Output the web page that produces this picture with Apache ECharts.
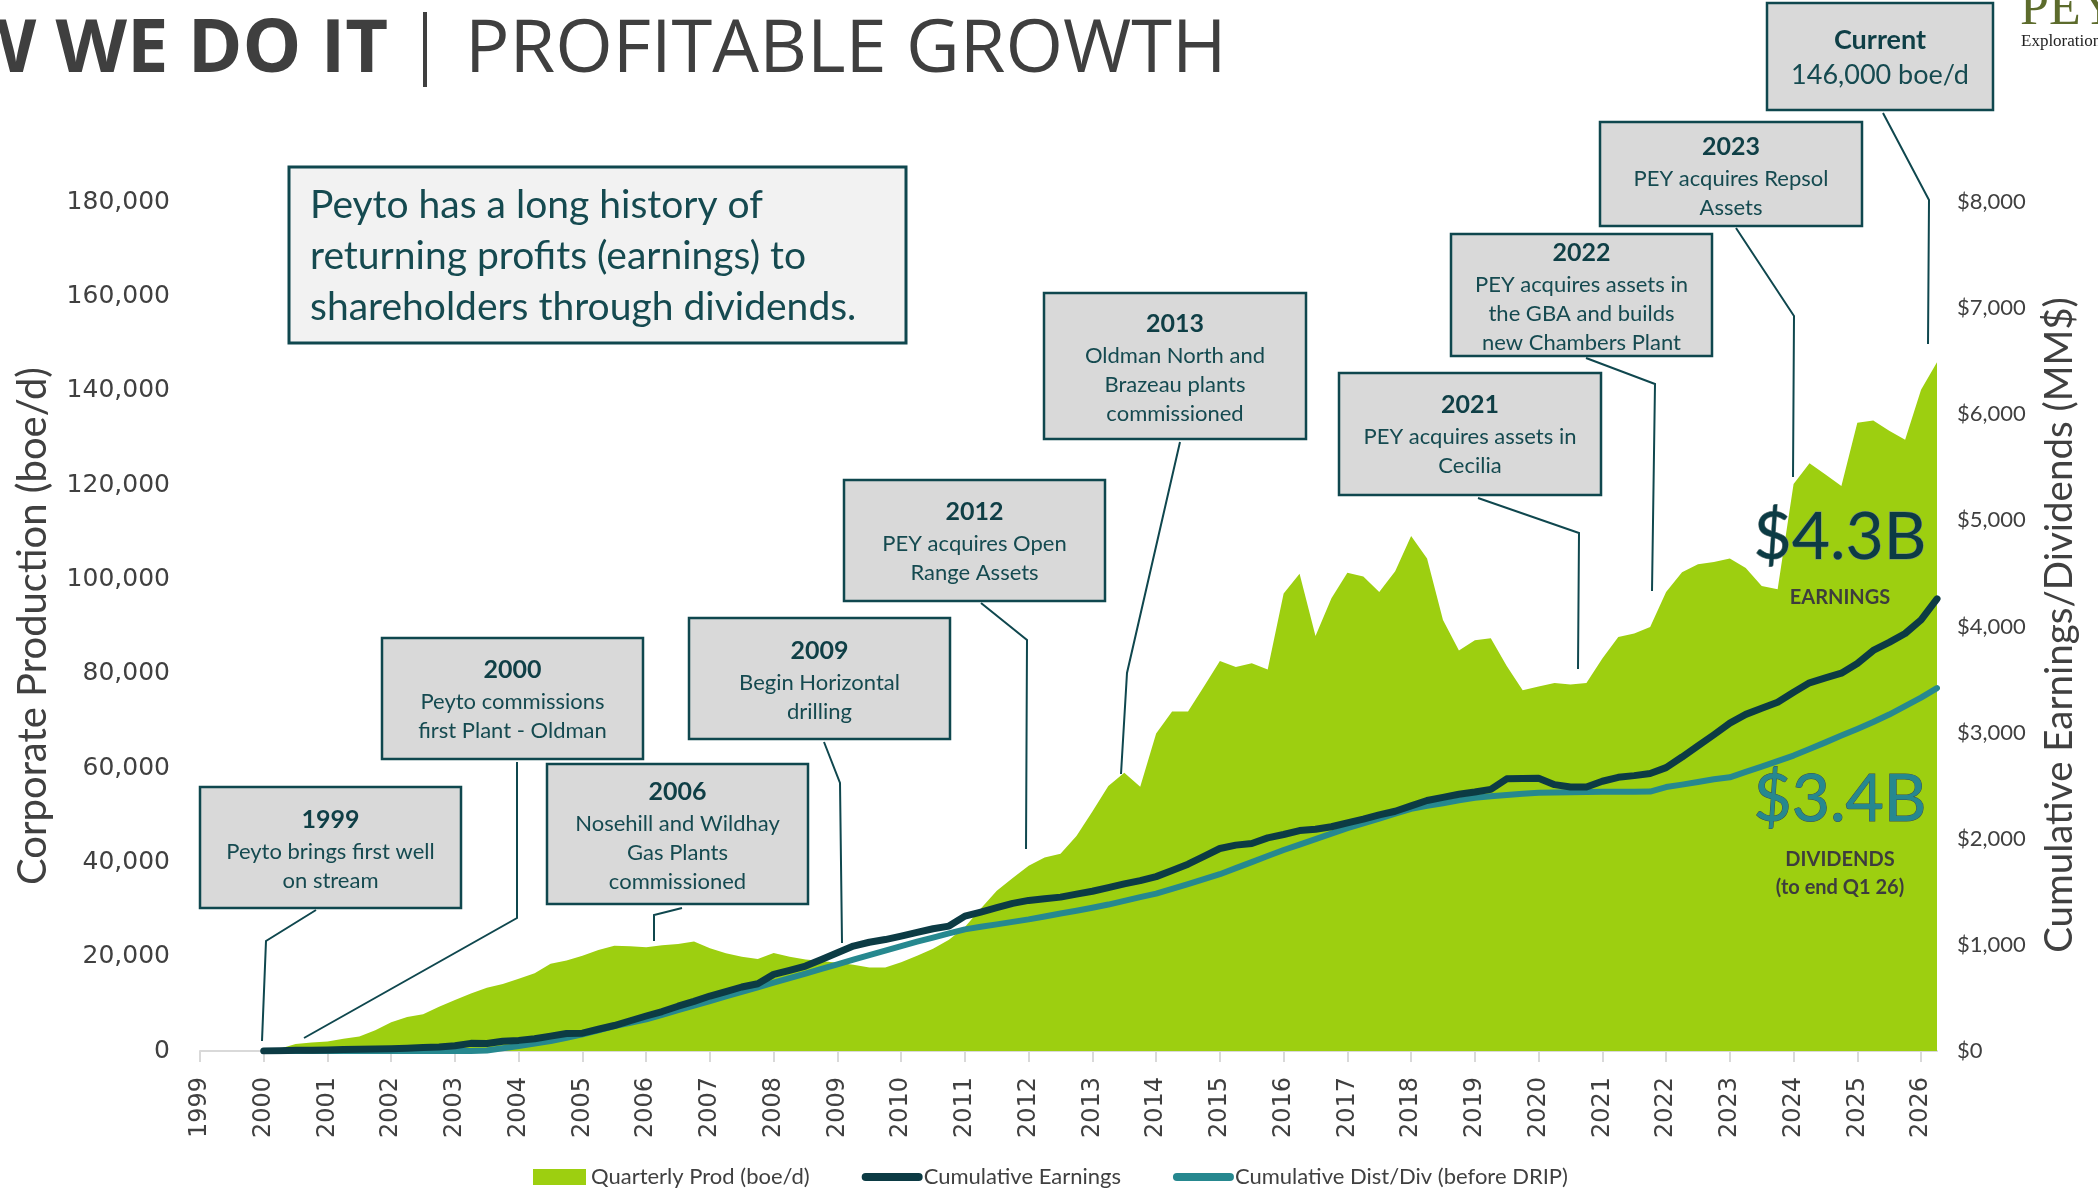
<!DOCTYPE html>
<html>
<head>
<meta charset="utf-8">
<title>Profitable Growth</title>
<script src="https://cdn.jsdelivr.net/npm/echarts@6.0.0/dist/echarts.min.js"></script>
<style>
  html, body { margin: 0; padding: 0; background: #fff; }
  #chart { width: 2098px; height: 1189px; }
</style>
</head>
<body>
<div id="chart"></div>
<script>
// quarterly readings, first one sits on the 2000 tick
const firstQuarter = 2000;
const years = [1999, 2000, 2001, 2002, 2003, 2004, 2005, 2006, 2007, 2008, 2009, 2010, 2011, 2012,
  2013, 2014, 2015, 2016, 2017, 2018, 2019, 2020, 2021, 2022, 2023, 2024, 2025, 2026];

// Quarterly Prod (boe/d)
const production = [
  0, 500, 1500, 1800,
  2000, 2600, 3100, 4400,
  6100, 7200, 7800, 9400,
  10800, 12200, 13400, 14200,
  15300, 16500, 18500, 19200,
  20200, 21400, 22300, 22200,
  22000, 22400, 22700, 23200,
  21800, 20700, 20000, 19500,
  20800, 20000, 19400, 19100,
  18700, 18300, 17700, 17700,
  18800, 20200, 21700, 23600,
  26300, 30200, 34000, 36700,
  39300, 41000, 41800, 45600,
  50800, 56200, 59000, 56000,
  67300, 72000, 72000, 77300,
  82700, 81400, 82200, 80900,
  97000, 101200, 88000, 96000,
  101400, 100600, 97300, 101700,
  109200, 104400, 91400, 84900,
  87100, 87500, 81600, 76500,
  77300, 78000, 77700, 78000,
  83200, 87800, 88500, 89900,
  97300, 101500, 103200, 103700,
  104400, 102400, 98600, 97900,
  120200, 124600, 122200, 119800,
  133200, 133700, 131500, 129600,
  140200, 146000
];

// Cumulative Earnings ($MM)
const earnings = [
  0, 3, 6, 8,
  10, 13, 16, 19,
  22, 27, 32, 38,
  50, 72, 70, 92,
  100, 115, 140, 165,
  168, 205, 240, 285,
  330, 372, 422, 468,
  518, 560, 603, 634,
  722, 760, 800, 862,
  926, 989, 1025, 1050,
  1083, 1118, 1152, 1177,
  1271, 1309, 1350, 1391,
  1419, 1435, 1450, 1478,
  1505, 1540, 1575, 1605,
  1643, 1700, 1760, 1835,
  1908, 1940, 1955, 2008,
  2040, 2077, 2090, 2113,
  2150, 2185, 2225, 2259,
  2310, 2360, 2390, 2419,
  2440, 2465, 2565, 2568,
  2570, 2510, 2487, 2487,
  2542, 2579, 2595, 2615,
  2670, 2770, 2875, 2980,
  3090, 3172, 3230, 3286,
  3380, 3469, 3515, 3560,
  3651, 3774, 3850, 3934,
  4062, 4260
];

// Cumulative Dist/Div before DRIP ($MM)
const dividends = [
  0, 0, 0, 0,
  0, 0, 0, 0,
  0, 0, 0, 0,
  0, 0, 5, 25,
  47, 70, 94, 125,
  157, 195, 235, 265,
  298, 340, 385, 428,
  471, 514, 557, 600,
  644, 687, 730, 773,
  816, 860, 903, 946,
  989, 1030, 1068, 1108,
  1146, 1170, 1193, 1217,
  1240, 1268, 1295, 1322,
  1350, 1380, 1415, 1450,
  1483, 1527, 1572, 1620,
  1666, 1723, 1780, 1837,
  1894, 1945, 1996, 2048,
  2099, 2145, 2190, 2236,
  2282, 2310, 2335, 2362,
  2387, 2400, 2412, 2423,
  2433, 2436, 2438, 2440,
  2442, 2442, 2442, 2445,
  2487, 2510, 2535, 2560,
  2579, 2630, 2680, 2732,
  2784, 2846, 2908, 2972,
  3035, 3100, 3170, 3250,
  3330, 3420
];

const seriesNames = ['Quarterly Prod (boe/d)', 'Cumulative Earnings', 'Cumulative Dist/Div (before DRIP)'];

const GREEN = '#9dcf10';
const DARK = '#0c3b44';
const TEAL = '#26888f';
const BOX_EDGE = '#0f474e';
const BOX_TEXT = '#154a50';

function toPoints(arr) {
  return arr.map((v, i) => [firstQuarter + i / 4, v]);
}

// callout boxes: [x, y, w, h] in page px, title centre y, body lines
const callouts = [
  { box: [200, 787, 261, 121], ty: 820, title: '1999', lines: ['Peyto brings first well', 'on stream'],
    leader: [[316, 910], [266, 941], [262, 1041]] },
  { box: [382, 638, 261, 121], ty: 670, title: '2000', lines: ['Peyto commissions', 'first Plant - Oldman'],
    leader: [[517, 762], [517, 918], [304, 1038]] },
  { box: [547, 764, 261, 140], ty: 792, title: '2006', lines: ['Nosehill and Wildhay', 'Gas Plants', 'commissioned'],
    leader: [[682, 908], [654, 915], [654, 941]] },
  { box: [689, 618, 261, 121], ty: 651, title: '2009', lines: ['Begin Horizontal', 'drilling'],
    leader: [[824, 742], [840, 783], [842, 943]] },
  { box: [844, 480, 261, 121], ty: 512, title: '2012', lines: ['PEY acquires Open', 'Range Assets'],
    leader: [[981, 603], [1027, 640], [1026, 849]] },
  { box: [1044, 293, 262, 146], ty: 324, title: '2013', lines: ['Oldman North and', 'Brazeau plants', 'commissioned'],
    leader: [[1180, 442], [1127, 673], [1121, 774]] },
  { box: [1339, 373, 262, 122], ty: 405, title: '2021', lines: ['PEY acquires assets in', 'Cecilia'],
    leader: [[1478, 498], [1579, 533], [1578, 669]] },
  { box: [1451, 234, 261, 122], ty: 253, title: '2022', lines: ['PEY acquires assets in', 'the GBA and builds', 'new Chambers Plant'],
    leader: [[1586, 358], [1655, 384], [1652, 591]] },
  { box: [1600, 122, 262, 104], ty: 147, title: '2023', lines: ['PEY acquires Repsol', 'Assets'],
    leader: [[1736, 228], [1794, 316], [1793, 477]] }
];

const graphics = [];

callouts.forEach(c => {
  const [x, y, w, h] = c.box;
  graphics.push({
    type: 'rect', z: 100,
    shape: { x: x, y: y, width: w, height: h },
    style: { fill: '#d9d9d9', stroke: BOX_EDGE, lineWidth: 2.5 }
  });
  graphics.push({
    type: 'text', z: 101, x: x + w / 2, y: c.ty - 17,
    style: {
      text: '{t|' + c.title + '}\n' + c.lines.map(l => '{b|' + l + '}').join('\n'),
      align: 'center', verticalAlign: 'top',
      rich: {
        t: { fontFamily: 'Lato', fontWeight: 'bold', fontSize: 25, lineHeight: 34, fill: '#0f3f46', align: 'center' },
        b: { fontFamily: 'Lato', fontSize: 22, lineHeight: 29, fill: BOX_TEXT, align: 'center' }
      }
    }
  });
  graphics.push({
    type: 'polyline', z: 99,
    shape: { points: c.leader },
    style: { stroke: BOX_EDGE, lineWidth: 2, fill: null }
  });
});

// "Current" callout
graphics.push(
  { type: 'rect', z: 100, shape: { x: 1767, y: 3, width: 226, height: 107 },
    style: { fill: '#d9d9d9', stroke: BOX_EDGE, lineWidth: 2.5 } },
  { type: 'text', z: 101, x: 1880, y: 40,
    style: { text: 'Current', fontFamily: 'Lato', fontWeight: 'bold', fontSize: 27, fill: '#0f3f46', align: 'center', verticalAlign: 'middle' } },
  { type: 'text', z: 101, x: 1880, y: 75,
    style: { text: '146,000 boe/d', fontFamily: 'Lato', fontSize: 27, fill: BOX_TEXT, align: 'center', verticalAlign: 'middle' } },
  { type: 'polyline', z: 99, shape: { points: [[1883, 113], [1929, 200], [1928, 344]] },
    style: { stroke: BOX_EDGE, lineWidth: 2, fill: null } }
);

// message box
graphics.push(
  { type: 'rect', z: 100, shape: { x: 289, y: 167, width: 617, height: 176 },
    style: { fill: '#f2f2f2', stroke: BOX_EDGE, lineWidth: 3 } },
  { type: 'text', z: 101, x: 310, y: 180,
    style: {
      text: 'Peyto has a long history of\nreturning profits (earnings) to\nshareholders through dividends.',
      fontFamily: 'Lato', fontSize: 39, lineHeight: 51, fill: BOX_TEXT, align: 'left', verticalAlign: 'top'
    } }
);

// page title
graphics.push(
  { type: 'text', z: 101, x: 388, y: 51,
    style: { text: 'HOW WE DO IT', fontFamily: 'Open Sans', fontWeight: 'bold', fontSize: 74, fill: '#3f3f3f', align: 'right', verticalAlign: 'middle' } },
  { type: 'line', z: 101, shape: { x1: 425, y1: 12, x2: 425, y2: 87 },
    style: { stroke: '#3f3f3f', lineWidth: 4 } },
  { type: 'text', z: 101, x: 465, y: 51,
    style: { text: 'PROFITABLE GROWTH', fontFamily: 'Open Sans', fontSize: 74, fill: '#3f3f3f', align: 'left', verticalAlign: 'middle' } },
  { type: 'text', z: 101, x: 2020, y: 36,
    style: { text: 'PEYTO', fontFamily: 'Liberation Serif', fontSize: 52, fill: '#5c6b2c', align: 'left', verticalAlign: 'bottom' } },
  { type: 'text', z: 101, x: 2021, y: 42,
    style: { text: 'Exploration', fontFamily: 'Liberation Serif', fontSize: 17, fill: '#222', align: 'left', verticalAlign: 'middle' } }
);

// axis titles
graphics.push(
  { type: 'text', z: 101, x: 33, y: 626, rotation: Math.PI / 2,
    style: { text: 'Corporate Production (boe/d)', fontFamily: 'Lato', fontSize: 40, fill: '#404040', align: 'center', verticalAlign: 'middle' } },
  { type: 'text', z: 101, x: 2060, y: 625, rotation: Math.PI / 2,
    style: { text: 'Cumulative Earnings/Dividends (MM$)', fontFamily: 'Lato', fontSize: 38.5, fill: '#404040', align: 'center', verticalAlign: 'middle' } }
);

// totals
graphics.push(
  { type: 'text', z: 101, x: 1840, y: 538,
    style: { text: '$4.3B', fontFamily: 'Lato', fontSize: 66, fill: DARK, stroke: '#7a8a8a', lineWidth: 1, align: 'center', verticalAlign: 'middle' } },
  { type: 'text', z: 101, x: 1840, y: 598,
    style: { text: 'EARNINGS', fontFamily: 'Lato', fontWeight: 'bold', fontSize: 20, fill: '#3d3d3d', align: 'center', verticalAlign: 'middle' } },
  { type: 'text', z: 101, x: 1840, y: 800,
    style: { text: '$3.4B', fontFamily: 'Lato', fontSize: 66, fill: TEAL, stroke: '#3c4f52', lineWidth: 1, align: 'center', verticalAlign: 'middle' } },
  { type: 'text', z: 101, x: 1840, y: 860,
    style: { text: 'DIVIDENDS', fontFamily: 'Lato', fontWeight: 'bold', fontSize: 20, fill: '#3d3d3d', align: 'center', verticalAlign: 'middle' } },
  { type: 'text', z: 101, x: 1840, y: 888,
    style: { text: '(to end Q1 26)', fontFamily: 'Lato', fontWeight: 'bold', fontSize: 20, fill: '#3d3d3d', align: 'center', verticalAlign: 'middle' } }
);

const chart = echarts.init(document.getElementById('chart'), null, { renderer: 'canvas' });

const legendLine = { width: 8, cap: 'round' };

const option = {
  animation: false,
  backgroundColor: '#ffffff',
  grid: { left: 200, right: 161, top: 202, bottom: 138, outerBoundsMode: 'none' },
  legend: {
    left: 528, top: 1161,
    itemWidth: 53, itemHeight: 16, itemGap: 52,
    textStyle: { fontFamily: 'Lato', fontSize: 22, color: '#404040' },
    data: [
      { name: seriesNames[0], icon: 'rect' },
      { name: seriesNames[1], itemStyle: { opacity: 0 }, lineStyle: legendLine },
      { name: seriesNames[2], itemStyle: { opacity: 0 }, lineStyle: legendLine }
    ]
  },
  xAxis: {
    type: 'value',
    min: 1999, max: 2026.25, interval: 1,
    splitLine: { show: false },
    axisLine: { show: true, lineStyle: { color: '#d9d9d9', width: 2 } },
    axisTick: { show: true, length: 11, lineStyle: { color: '#d9d9d9', width: 2 }, customValues: years },
    axisLabel: {
      rotate: 90, margin: 26, fontFamily: 'DejaVu Sans', fontSize: 24, color: '#404040',
      customValues: years,
      formatter: v => (Math.abs(v - Math.round(v)) < 1e-6 ? String(Math.round(v)) : '')
    }
  },
  yAxis: [
    {
      type: 'value', min: 0, max: 180000, interval: 20000,
      splitLine: { show: false }, axisLine: { show: false }, axisTick: { show: false },
      axisLabel: { margin: 30, fontFamily: 'DejaVu Sans', fontSize: 25, color: '#404040',
        formatter: v => v.toLocaleString('en-US') }
    },
    {
      type: 'value', min: 0, max: 8000, interval: 1000, position: 'right',
      splitLine: { show: false }, axisLine: { show: false }, axisTick: { show: false },
      axisLabel: { margin: 20, fontFamily: 'Lato', fontSize: 22, color: '#404040',
        formatter: v => '$' + v.toLocaleString('en-US') }
    }
  ],
  series: [
    {
      name: seriesNames[0], type: 'line', yAxisIndex: 0,
      data: toPoints(production),
      symbol: 'none', smooth: false,
      itemStyle: { color: GREEN },
      lineStyle: { width: 0, color: GREEN },
      areaStyle: { color: GREEN, opacity: 1 },
      z: 1
    },
    {
      name: seriesNames[1], type: 'line', yAxisIndex: 1,
      data: toPoints(earnings),
      symbol: 'none',
      itemStyle: { color: DARK },
      lineStyle: { width: 7, color: DARK, cap: 'round', join: 'round' },
      z: 3
    },
    {
      name: seriesNames[2], type: 'line', yAxisIndex: 1,
      data: toPoints(dividends),
      symbol: 'none',
      itemStyle: { color: TEAL },
      lineStyle: { width: 6, color: TEAL, cap: 'round', join: 'round' },
      z: 2
    }
  ],
  graphic: { elements: graphics }
};

chart.setOption(option);
</script>
</body>
</html>
